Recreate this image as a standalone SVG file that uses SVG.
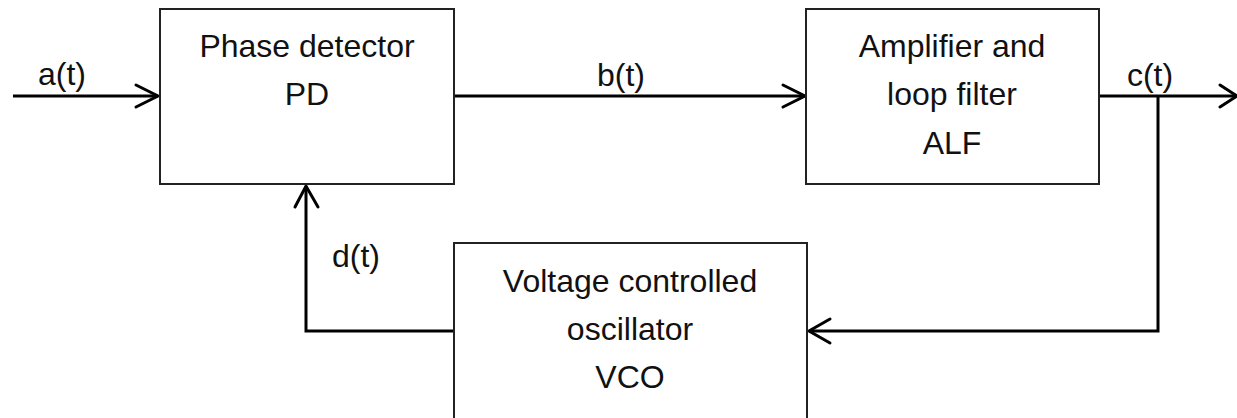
<svg xmlns="http://www.w3.org/2000/svg" width="1237" height="418" viewBox="0 0 1237 418">
<style>
.box{fill:#fff;stroke:#222;stroke-width:2}
.t{font-family:"Liberation Sans",Arial,sans-serif;font-size:32px;fill:#111;text-anchor:middle}
.c{fill:none;stroke:#000;stroke-width:3;stroke-linejoin:miter}
.ah{fill:none;stroke:#000;stroke-width:3;stroke-linecap:round;stroke-linejoin:miter}
</style>
<rect width="1237" height="418" fill="#fff"/>
<g id="connectors">
<path class="c" d="M13,96 H158"/>
<path class="ah" d="M136,85 L158,96 L136,107"/>
<text class="t" x="62" y="85">a(t)</text>
<path class="c" d="M454,96 H805"/>
<path class="ah" d="M783,85 L805,96 L783,107"/>
<text class="t" x="621" y="86">b(t)</text>
<path class="c" d="M1099,96 H1236"/>
<path class="ah" d="M1220,85 L1237,96 L1220,107"/>
<text class="t" x="1150" y="86">c(t)</text>
<path class="c" d="M1158,96 V331 H809"/>
<path class="ah" d="M830,319 L809,331 L830,343"/>
<path class="c" d="M454,331 H306 V186"/>
<path class="ah" d="M295,207 L306,186 L318,207"/>
<text class="t" x="356" y="267">d(t)</text>
</g>
<g id="pd">
<rect class="box" x="160" y="9" width="294" height="175"/>
<text class="t" x="307" y="57">Phase detector</text>
<text class="t" x="307" y="105">PD</text>
</g>
<g id="alf">
<rect class="box" x="806" y="9" width="293" height="175"/>
<text class="t" x="952" y="57">Amplifier and</text>
<text class="t" x="952" y="105">loop filter</text>
<text class="t" x="952" y="154">ALF</text>
</g>
<g id="vco">
<rect class="box" x="454" y="243" width="353" height="200"/>
<text class="t" x="630" y="292">Voltage controlled</text>
<text class="t" x="630" y="340">oscillator</text>
<text class="t" x="630" y="388">VCO</text>
</g>
</svg>
